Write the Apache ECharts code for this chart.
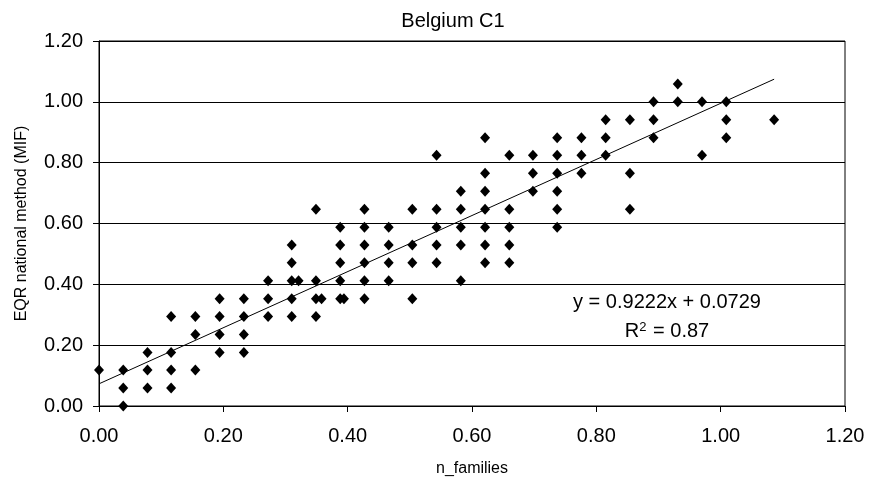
<!DOCTYPE html>
<html>
<head>
<meta charset="utf-8">
<style>
  html, body { margin: 0; padding: 0; background: #fff; }
  #chart { width: 869px; height: 484px; }
</style>
<script src="https://cdn.jsdelivr.net/npm/echarts@6/dist/echarts.min.js"></script>
</head>
<body>
<div id="chart"></div>
<script>
// n_families score per site
const nFamilies = [
  0.000,
  0.039, 0.039, 0.039,
  0.078, 0.078, 0.078,
  0.116, 0.116, 0.116, 0.116,
  0.155, 0.155, 0.155,
  0.194, 0.194, 0.194, 0.194,
  0.233, 0.233, 0.233, 0.233,
  0.272, 0.272, 0.272,
  0.310, 0.310, 0.310, 0.310, 0.310,
  0.321,
  0.349, 0.349, 0.349, 0.349,
  0.358,
  0.388, 0.388, 0.388, 0.388, 0.388,
  0.394,
  0.427, 0.427, 0.427, 0.427, 0.427, 0.427,
  0.466, 0.466, 0.466, 0.466,
  0.504, 0.504, 0.504, 0.504,
  0.543, 0.543, 0.543, 0.543, 0.543,
  0.582, 0.582, 0.582, 0.582, 0.582,
  0.621, 0.621, 0.621, 0.621, 0.621, 0.621, 0.621,
  0.660, 0.660, 0.660, 0.660, 0.660,
  0.698, 0.698, 0.698,
  0.737, 0.737, 0.737, 0.737, 0.737, 0.737,
  0.776, 0.776, 0.776,
  0.815, 0.815, 0.815,
  0.854, 0.854, 0.854,
  0.892, 0.892, 0.892,
  0.931, 0.931,
  0.970, 0.970,
  1.009, 1.009, 1.009,
  1.086
];

// EQR from the national method (MIF), same order as nFamilies
const eqrMif = [
  0.118,
  0.000, 0.059, 0.118,
  0.059, 0.118, 0.176,
  0.059, 0.118, 0.176, 0.294,
  0.118, 0.235, 0.294,
  0.176, 0.235, 0.294, 0.353,
  0.176, 0.235, 0.294, 0.353,
  0.294, 0.353, 0.412,
  0.294, 0.353, 0.412, 0.471, 0.529,
  0.412,
  0.294, 0.353, 0.412, 0.647,
  0.353,
  0.353, 0.412, 0.471, 0.529, 0.588,
  0.353,
  0.353, 0.412, 0.471, 0.529, 0.588, 0.647,
  0.412, 0.471, 0.529, 0.588,
  0.353, 0.471, 0.529, 0.647,
  0.471, 0.529, 0.588, 0.647, 0.824,
  0.412, 0.529, 0.588, 0.647, 0.706,
  0.471, 0.529, 0.588, 0.647, 0.706, 0.765, 0.882,
  0.471, 0.529, 0.588, 0.647, 0.824,
  0.706, 0.765, 0.824,
  0.588, 0.647, 0.706, 0.765, 0.824, 0.882,
  0.765, 0.824, 0.882,
  0.824, 0.882, 0.941,
  0.647, 0.765, 0.941,
  0.882, 0.941, 1.000,
  1.000, 1.059,
  0.824, 1.000,
  0.882, 0.941, 1.000,
  0.941
];

// Linear fit reported on the chart
const slope = 0.9222;
const intercept = 0.0729;
const rSquared = 0.87;

// Axis ticks
const xTicks = [0, 0.2, 0.4, 0.6, 0.8, 1.0, 1.2];
const yTicks = [0, 0.2, 0.4, 0.6, 0.8, 1.0, 1.2];

const points = nFamilies.map((x, i) => [x, eqrMif[i]]);
const xMaxData = Math.max(...nFamilies);
const fitLine = [
  [0, intercept],
  [xMaxData, slope * xMaxData + intercept]
];

const FONT = '"Liberation Sans", Arial, sans-serif';
const chart = echarts.init(document.getElementById('chart'), null, { renderer: 'canvas' });

const option = {
  animation: false,
  backgroundColor: '#ffffff',
  title: {
    text: 'Belgium C1',
    left: 448,
    top: 6,
    textAlign: 'center',
    textStyle: { fontFamily: FONT, fontSize: 20, fontWeight: 'normal', color: '#000' }
  },
  grid: {
    left: 99, right: 24, top: 41, bottom: 78,
    show: true, borderColor: '#000', borderWidth: 1, backgroundColor: 'transparent'
  },
  xAxis: {
    type: 'value',
    min: xTicks[0], max: xTicks[xTicks.length - 1], interval: 0.2,
    name: 'n_families',
    nameLocation: 'middle',
    nameGap: 55,
    nameTextStyle: { fontFamily: FONT, fontSize: 16, color: '#000' },
    axisLine: { show: true, onZero: false, lineStyle: { color: '#000', width: 1 } },
    axisTick: { show: true, length: 6, lineStyle: { color: '#000' } },
    axisLabel: {
      fontFamily: FONT, fontSize: 20, color: '#000', margin: 20,
      formatter: v => v.toFixed(2)
    },
    splitLine: { show: false }
  },
  yAxis: {
    type: 'value',
    min: yTicks[0], max: yTicks[yTicks.length - 1], interval: 0.2,
    name: 'EQR national method (MIF)',
    nameLocation: 'middle',
    nameGap: 69,
    nameRotate: 90,
    nameTextStyle: { fontFamily: FONT, fontSize: 16, color: '#000' },
    axisLine: { show: true, onZero: false, lineStyle: { color: '#000', width: 1 } },
    axisTick: { show: true, length: 6, lineStyle: { color: '#000' } },
    axisLabel: {
      fontFamily: FONT, fontSize: 20, color: '#000', margin: 16,
      formatter: v => v.toFixed(2)
    },
    splitLine: { show: true, lineStyle: { color: '#000', width: 1 } }
  },
  series: [
    {
      type: 'scatter',
      data: points,
      symbol: 'diamond',
      symbolSize: [10, 11],
      itemStyle: { color: '#000', opacity: 1 },
      z: 3
    },
    {
      type: 'line',
      data: fitLine,
      symbol: 'none',
      lineStyle: { color: '#000', width: 1 },
      z: 4
    }
  ],
  graphic: [
    {
      type: 'text',
      x: 667, y: 302,
      style: {
        text: 'y = ' + slope.toFixed(4) + 'x + ' + intercept.toFixed(4),
        font: '20px ' + FONT, fill: '#000',
        align: 'center', verticalAlign: 'middle'
      }
    },
    {
      type: 'text',
      x: 667, y: 331,
      style: {
        rich: {
          sup: { font: '13px ' + FONT, fill: '#000', verticalAlign: 'top', padding: [0, 1, 8, 0] },
          n: { font: '20px ' + FONT, fill: '#000' }
        },
        text: '{n|R}{sup|2}{n| = ' + rSquared.toFixed(2) + '}',
        align: 'center', verticalAlign: 'middle'
      }
    }
  ]
};

chart.setOption(option);
</script>
</body>
</html>
